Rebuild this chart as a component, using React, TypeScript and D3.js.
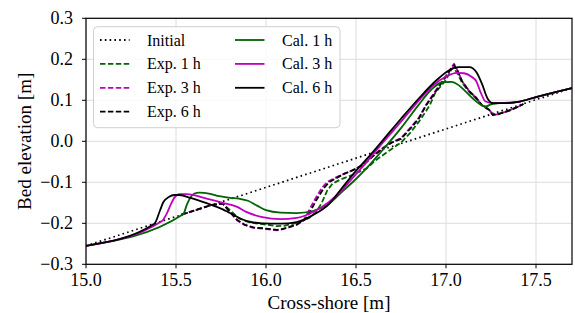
import React from "react";
import * as d3 from "d3";

const W = 575, H = 313;
const M = { left: 86, right: 3, top: 18.3, bottom: 48.7 };

const xTicks = [15.0, 15.5, 16.0, 16.5, 17.0, 17.5];
const yTicks = [-0.3, -0.2, -0.1, 0.0, 0.1, 0.2, 0.3];

const initial: [number, number][] = [[15.0, -0.255], [17.7, 0.13]];

const exp1h: [number, number][] = [
  [15.53, -0.179], [15.6, -0.169], [15.7, -0.155], [15.76, -0.152], [15.8, -0.168], [15.85, -0.188],
  [15.91, -0.198], [15.98, -0.202], [16.06, -0.207], [16.1, -0.206], [16.18, -0.198], [16.24, -0.187],
  [16.28, -0.172], [16.31, -0.15], [16.34, -0.12], [16.37, -0.103], [16.41, -0.094], [16.48, -0.082],
  [16.56, -0.066], [16.61, -0.046], [16.69, -0.021], [16.75, -0.003], [16.8, 0.02], [16.85, 0.048],
  [16.91, 0.088], [16.94, 0.118], [17.0, 0.15], [17.03, 0.175], [17.04, 0.18], [17.065, 0.165],
  [17.09, 0.142], [17.13, 0.12], [17.17, 0.103], [17.2, 0.087], [17.24, 0.076], [17.26, 0.066],
  [17.3, 0.068], [17.35, 0.074], [17.43, 0.091],
];

const exp3h: [number, number][] = [
  [15.53, -0.179], [15.6, -0.169], [15.7, -0.155], [15.76, -0.152], [15.8, -0.173], [15.84, -0.193],
  [15.88, -0.204], [15.93, -0.211], [15.98, -0.213], [16.06, -0.217], [16.09, -0.215], [16.17, -0.204],
  [16.21, -0.192], [16.23, -0.176], [16.27, -0.143], [16.31, -0.114], [16.34, -0.099], [16.38, -0.09],
  [16.43, -0.08], [16.48, -0.071], [16.54, -0.057], [16.59, -0.037], [16.65, -0.016], [16.7, -0.002],
  [16.75, 0.008], [16.8, 0.032], [16.85, 0.058], [16.89, 0.09], [16.93, 0.115], [16.96, 0.135],
  [17.0, 0.16], [17.03, 0.18], [17.045, 0.189], [17.065, 0.172], [17.09, 0.146], [17.13, 0.122],
  [17.17, 0.105], [17.2, 0.088], [17.24, 0.077], [17.26, 0.064], [17.29, 0.066], [17.33, 0.072],
  [17.39, 0.082], [17.43, 0.091],
];

const exp6h: [number, number][] = [
  [15.53, -0.179], [15.6, -0.169], [15.7, -0.155], [15.76, -0.152], [15.8, -0.172], [15.84, -0.192],
  [15.88, -0.203], [15.93, -0.21], [15.98, -0.212], [16.06, -0.216], [16.09, -0.214], [16.17, -0.203],
  [16.22, -0.19], [16.24, -0.176], [16.28, -0.143], [16.32, -0.115], [16.35, -0.1], [16.39, -0.09],
  [16.43, -0.08], [16.48, -0.071], [16.54, -0.058], [16.59, -0.038], [16.65, -0.017], [16.7, -0.003],
  [16.75, 0.006], [16.8, 0.03], [16.85, 0.056], [16.89, 0.088], [16.93, 0.113], [16.96, 0.133],
  [17.0, 0.158], [17.03, 0.178], [17.045, 0.186], [17.065, 0.171], [17.09, 0.146], [17.13, 0.122],
  [17.17, 0.105], [17.2, 0.088], [17.24, 0.077], [17.26, 0.064], [17.29, 0.066], [17.33, 0.072],
  [17.39, 0.082], [17.43, 0.091],
];

const cal1h: [number, number][] = [
  [15.0, -0.255], [15.54, -0.178], [15.56, -0.155], [15.58, -0.137], [15.6, -0.128], [15.63, -0.125],
  [15.69, -0.128], [15.74, -0.134], [15.8, -0.138], [15.85, -0.14], [15.9, -0.145], [15.95, -0.157],
  [16.0, -0.168], [16.08, -0.174], [16.17, -0.175], [16.26, -0.17], [16.35, -0.152], [16.43, -0.12],
  [16.5, -0.092], [16.56, -0.065], [16.65, -0.02], [16.75, 0.032], [16.85, 0.09], [16.92, 0.127],
  [16.98, 0.144], [17.03, 0.145], [17.07, 0.137], [17.11, 0.121], [17.15, 0.104], [17.19, 0.09],
  [17.22, 0.085], [17.25, 0.09], [17.3, 0.093], [17.41, 0.097], [17.5, 0.108], [17.7, 0.13],
];

const cal3h: [number, number][] = [
  [15.0, -0.255], [15.42, -0.195], [15.45, -0.175], [15.47, -0.155], [15.49, -0.138], [15.52, -0.129],
  [15.56, -0.129], [15.67, -0.14], [15.76, -0.15], [15.84, -0.16], [15.89, -0.172], [15.98, -0.185],
  [16.08, -0.19], [16.17, -0.187], [16.26, -0.173], [16.35, -0.148], [16.42, -0.12], [16.5, -0.08],
  [16.56, -0.05], [16.65, -0.003], [16.75, 0.048], [16.85, 0.1], [16.92, 0.133], [17.0, 0.158],
  [17.06, 0.167], [17.1, 0.166], [17.14, 0.158], [17.17, 0.145], [17.19, 0.122], [17.22, 0.097],
  [17.26, 0.093], [17.33, 0.093], [17.41, 0.097], [17.5, 0.108], [17.7, 0.13],
];

const cal6h: [number, number][] = [
  [15.0, -0.255], [15.38, -0.201], [15.41, -0.17], [15.43, -0.148], [15.46, -0.136], [15.49, -0.131],
  [15.52, -0.131], [15.58, -0.138], [15.67, -0.151], [15.76, -0.166], [15.8, -0.175], [15.89, -0.194],
  [15.98, -0.2], [16.08, -0.201], [16.17, -0.197], [16.26, -0.18], [16.35, -0.153], [16.42, -0.115],
  [16.5, -0.072], [16.56, -0.043], [16.65, 0.003], [16.75, 0.055], [16.85, 0.105], [16.95, 0.15],
  [17.02, 0.174], [17.07, 0.181], [17.13, 0.181], [17.17, 0.168], [17.2, 0.14], [17.23, 0.105],
  [17.26, 0.093], [17.33, 0.093], [17.41, 0.097], [17.5, 0.108], [17.7, 0.13],
];

const GREEN = "#006400";
const MAGENTA = "#bf00bf";
const BLACK = "#000000";

type S = { name: string; data: [number, number][]; color: string; dash: string; smooth: boolean };
const series: S[] = [
  { name: "Initial", data: initial, color: BLACK, dash: "1.6,3.2", smooth: false },
  { name: "Exp. 1 h", data: exp1h, color: GREEN, dash: "5.5,2.4", smooth: false },
  { name: "Exp. 3 h", data: exp3h, color: MAGENTA, dash: "5.5,2.4", smooth: false },
  { name: "Exp. 6 h", data: exp6h, color: BLACK, dash: "5.5,2.4", smooth: false },
  { name: "Cal. 1 h", data: cal1h, color: GREEN, dash: "", smooth: true },
  { name: "Cal. 3 h", data: cal3h, color: MAGENTA, dash: "", smooth: true },
  { name: "Cal. 6 h", data: cal6h, color: BLACK, dash: "", smooth: true },
];

const FONT = "Liberation Serif, Times New Roman, Times, DejaVu Serif, serif";

export default function App() {
  const x = d3.scaleLinear().domain([15.0, 17.7]).range([M.left, W - M.right]);
  const y = d3.scaleLinear().domain([-0.3, 0.3]).range([H - M.bottom, M.top]);
  const fmt = (v: number) => d3.format(".1f")(v).replace("-", "\u2212");

  const lineLin = d3.line<[number, number]>().x((d) => x(d[0])).y((d) => y(d[1]));
  const lineSm = d3
    .line<[number, number]>()
    .x((d) => x(d[0]))
    .y((d) => y(d[1]))
    .curve(d3.curveMonotoneX);

  const legendRows = [
    { s: series[0], col: 0, row: 0 },
    { s: series[1], col: 0, row: 1 },
    { s: series[2], col: 0, row: 2 },
    { s: series[3], col: 0, row: 3 },
    { s: series[4], col: 1, row: 0 },
    { s: series[5], col: 1, row: 1 },
    { s: series[6], col: 1, row: 2 },
  ];
  const colX = [100, 235];
  const rowY = (r: number) => 40 + r * 23.9;
  const tf = { fontFamily: FONT };

  return (
    <svg
      width={W}
      height={H}
      style={{ position: "absolute", left: 0, top: 0, background: "#fff", fontFamily: FONT }}
    >
      <defs>
        <clipPath id="plotclip">
          <rect x={M.left} y={M.top} width={W - M.left - M.right} height={H - M.top - M.bottom} />
        </clipPath>
      </defs>
      {xTicks.map((t) => (
        <line key={"gx" + t} x1={x(t)} x2={x(t)} y1={M.top} y2={H - M.bottom} stroke="#dcdcdc" strokeWidth={1} />
      ))}
      {yTicks.map((t) => (
        <line key={"gy" + t} x1={M.left} x2={W - M.right} y1={y(t)} y2={y(t)} stroke="#dcdcdc" strokeWidth={1} />
      ))}
      <g clipPath="url(#plotclip)">
        {series.map((s) => (
          <path
            key={s.name}
            d={(s.smooth ? lineSm : lineLin)(s.data) || ""}
            fill="none"
            stroke={s.color}
            strokeWidth={s.name === "Initial" ? 1.7 : 1.8}
            strokeDasharray={s.dash || undefined}
            strokeLinejoin="round"
          />
        ))}
      </g>
      <rect
        x={M.left}
        y={M.top}
        width={W - M.left - M.right}
        height={H - M.top - M.bottom}
        fill="none"
        stroke="#000"
        strokeWidth={1.2}
      />
      {xTicks.map((t) => (
        <g key={"xt" + t}>
          <line x1={x(t)} x2={x(t)} y1={H - M.bottom} y2={H - M.bottom + 4} stroke="#000" strokeWidth={1} />
          <text x={x(t)} y={H - M.bottom + 22} textAnchor="middle" fontSize={18} style={tf}>
            {fmt(t)}
          </text>
        </g>
      ))}
      {yTicks.map((t) => (
        <g key={"yt" + t}>
          <line x1={M.left - 4} x2={M.left} y1={y(t)} y2={y(t)} stroke="#000" strokeWidth={1} />
          <text x={M.left - 13} y={y(t) + 6} textAnchor="end" fontSize={18} style={tf}>
            {fmt(t)}
          </text>
        </g>
      ))}
      <text x={(M.left + W - M.right) / 2} y={H - 4} textAnchor="middle" fontSize={19} style={tf}>
        Cross-shore [m]
      </text>
      <text
        transform={`translate(${31},${(M.top + H - M.bottom) / 2}) rotate(-90)`}
        textAnchor="middle"
        fontSize={19}
        style={tf}
      >
        Bed elevation [m]
      </text>
      <rect x={93.5} y={26.7} width={246.5} height={101} rx={4} fill="#fff" fillOpacity={0.8} stroke="#d0d0d0" strokeWidth={1} />
      {legendRows.map(({ s, col, row }) => (
        <g key={"lg" + s.name}>
          <line
            x1={colX[col]}
            x2={colX[col] + 29.5}
            y1={rowY(row)}
            y2={rowY(row)}
            stroke={s.color}
            strokeWidth={1.8}
            strokeDasharray={s.dash || undefined}
          />
          <text x={colX[col] + 47} y={rowY(row) + 5.5} fontSize={16} style={tf}>
            {s.name}
          </text>
        </g>
      ))}
    </svg>
  );
}
